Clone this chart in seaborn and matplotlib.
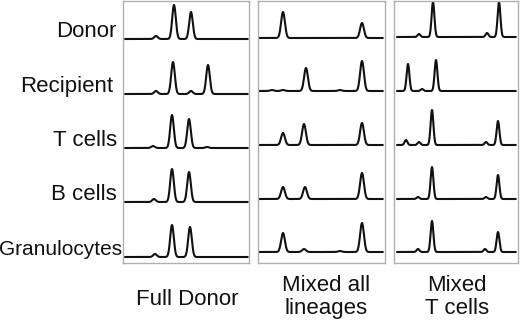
import numpy as np
import matplotlib
matplotlib.use("Agg")
import matplotlib.pyplot as plt
import seaborn as sns

sns.set_style("white")
plt.rcParams['font.family'] = ['Liberation Sans', 'DejaVu Sans']

# row and panel names
rows = ['Donor', 'Recipient', 'T cells', 'B cells', 'Granulocytes']
panels = [['Full Donor'], ['Mixed all', 'lineages'], ['Mixed', 'T cells']]

# peaks per row as (position, height), in panel pixels
full_donor = [
    [(33, 3), (51, 34), (68, 27)],
    [(33, 3), (50, 32), (68, 3), (85, 29)],
    [(30, 2), (49, 33), (66, 29), (84, 1)],
    [(31, 3), (49, 33), (66, 30)],
    [(32, 3), (49, 32), (67, 30)],
]
mixed_all = [
    [(25, 26), (104, 15)],
    [(14, 1), (25, 1), (48, 23), (82, 1), (104, 30)],
    [(25, 12), (46, 21), (104, 22)],
    [(25, 12), (47, 12), (104, 26)],
    [(25, 19), (46, 3), (82, 1), (104, 29)],
]
mixed_t = [
    [(25, 3), (39, 35), (93, 4), (105, 35)],
    [(14, 27), (28, 2), (42, 31)],
    [(12, 5), (25, 3), (38, 35), (92, 3), (104, 24)],
    [(24, 2), (38, 32), (92, 2), (104, 24)],
    [(24, 3), (38, 31), (91, 3), (104, 20)],
]
panel_peaks = [full_donor, mixed_all, mixed_t]

# trace baselines (pixels from top) for each panel
baselines = [
    [39, 94, 148, 202, 257],
    [38, 91, 145, 199, 252],
    [37, 91, 145, 199, 252],
]

# panel boxes in pixels: left, right, and peak width / trace extent
W, H = 520, 323
boxes = [(123, 249), (258, 385), (394, 518)]
widths = [1.8, 1.9, 1.4]
extent = [(2, 125), (1, 125), (3, 122)]
label_cx = [187, 326, 457]
label_base = [[305], [291, 314], [291, 314]]
top, bottom = 1, 263

fig = plt.figure(figsize=(W / 100, H / 100), dpi=100)

def trace(x, peaks, sigma):
    y = np.zeros_like(x)
    for pos, h in peaks:
        y += h * np.exp(-0.5 * ((x - pos) / sigma) ** 2)
    return y

for p, (left, right) in enumerate(boxes):
    ax = fig.add_axes([left / W, 1 - bottom / H, (right - left) / W, (bottom - top) / H])
    x = np.arange(extent[p][0], extent[p][1], 0.2)
    for r, peaks in enumerate(panel_peaks[p]):
        y = baselines[p][r] - trace(x, peaks, widths[p])
        sns.lineplot(x=x, y=y, ax=ax, color='#111111', linewidth=1.5, estimator=None)
    ax.set_xlim(0, right - left)
    ax.set_ylim(bottom, top)
    ax.set_xticks([])
    ax.set_yticks([])
    ax.set_xlabel('')
    ax.set_ylabel('')
    for s in ax.spines.values():
        s.set_color('#b0b0b0')
        s.set_linewidth(1)
    # panel caption, one text per line
    for line, yb in zip(panels[p], label_base[p]):
        fig.text(label_cx[p] / W, 1 - yb / H, line, ha='center', va='baseline',
                 fontsize=16, color='#111111')

# row labels, right aligned, sitting on trace baselines
label_right = [116, 113, 117, 117, 122]
for r, name in enumerate(rows):
    fs = 15 if name == 'Granulocytes' else 16
    fig.text(label_right[r] / W, 1 - (baselines[0][r] - 2) / H, name, ha='right',
             va='baseline', fontsize=fs, color='#111111')

fig.savefig('out.png', dpi=100, facecolor='white')
